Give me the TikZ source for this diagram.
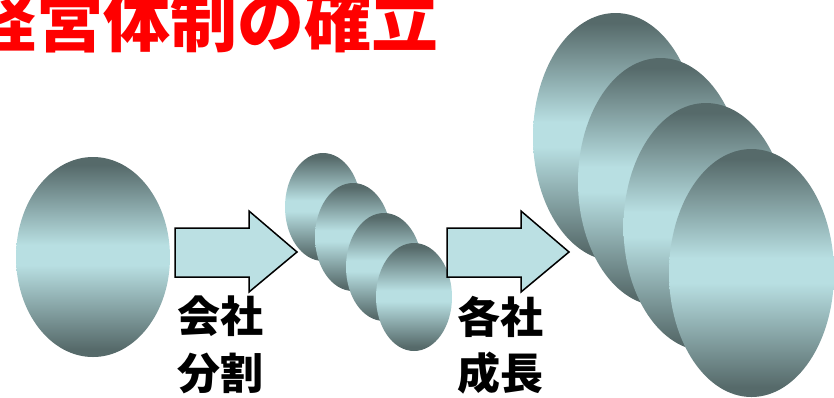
\documentclass[tikz,border=0pt]{standalone}
\usepackage{fontspec}
\newfontfamily\jp{Noto Sans CJK JP}
\usetikzlibrary{shapes.geometric}
\definecolor{balldark}{HTML}{566A6A}
\definecolor{balllight}{HTML}{B8DFE2}
\definecolor{arrowfill}{HTML}{BBE0E3}
\definecolor{titlered}{HTML}{FF0000}
\pgfdeclareverticalshading{ballshade}{100bp}{%
  color(0bp)=(balldark); color(27bp)=(balldark);
  color(48bp)=(balllight); color(53bp)=(balllight);
  color(73bp)=(balldark); color(100bp)=(balldark)}
\tikzset{
  ball/.style={ellipse, inner sep=0pt, outer sep=0pt, shading=ballshade},
  smallball/.style={ball, minimum width=76pt, minimum height=108pt},
  bigball/.style={ball, minimum width=165pt, minimum height=248pt},
  midball/.style={ball, minimum width=154pt, minimum height=200pt},
  blockarrow/.style={draw=black, line width=1.5pt, fill=arrowfill, line join=miter},
  lbl/.style={font=\jp\bfseries\fontsize{43}{43}\selectfont, text=black, inner sep=0pt},
  ttl/.style={font=\jp\bfseries\fontsize{67}{67}\selectfont, text=titlered, inner sep=0pt}
}
\begin{document}
\begin{tikzpicture}[x=1pt,y=-1pt]
\useasboundingbox (0,0) rectangle (834,397);
\clip (0,0) rectangle (834,397);
% title
\node[ttl, anchor=base west] (title) at (-31,46) {経営体制の確立};
% first ellipse
\node[midball] (e0) at (93,257) {};
% small ellipses
\node[smallball] (s1) at (323,207) {};
\node[smallball] (s2) at (353,237) {};
\node[smallball] (s3) at (384,267) {};
\node[smallball] (s4) at (414,297) {};
% big ellipses
\node[bigball] (b1) at (615.5,137) {};
\node[bigball] (b2) at (660.5,182) {};
\node[bigball] (b3) at (706,227) {};
\node[bigball] (b4) at (751.5,273) {};
% arrows
\draw[blockarrow] (175,228) -- (249,228) -- (249,211) -- (297,252) -- (249,292) -- (249,277) -- (175,277) -- cycle;
\draw[blockarrow] (447,228) -- (521,228) -- (521,211) -- (569,252) -- (521,292) -- (521,277) -- (447,277) -- cycle;
% labels
\node[lbl] (l1a) at (220.5,316.5) {会社};
\node[lbl] (l1b) at (220.5,373.5) {分割};
\node[lbl] (l2a) at (500.5,316.5) {各社};
\node[lbl] (l2b) at (500.5,373.5) {成長};
\end{tikzpicture}
\end{document}
